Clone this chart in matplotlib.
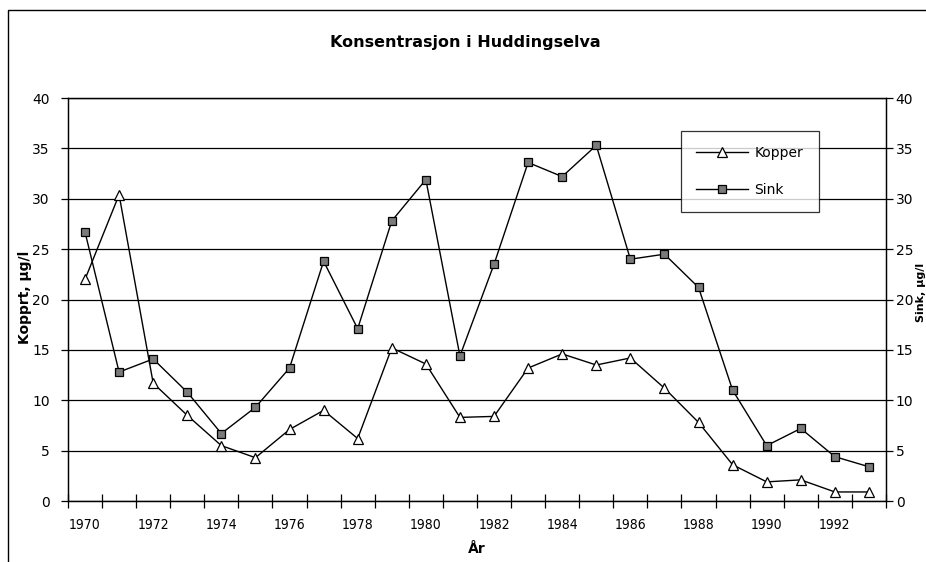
import matplotlib
matplotlib.use("Agg")
import matplotlib.pyplot as plt
from matplotlib.patches import Rectangle

# Data
years = list(range(1970, 1994))
kopper = [22.0, 30.4, 11.7, 8.5, 5.5, 4.3, 7.1, 9.0, 6.2, 15.2, 13.6, 8.3,
          8.4, 13.2, 14.6, 13.5, 14.2, 11.2, 7.8, 3.6, 1.9, 2.1, 0.9, 0.9]
sink = [26.7, 12.8, 14.1, 10.8, 6.7, 9.3, 13.2, 23.8, 17.1, 27.8, 31.9, 14.4,
        23.5, 33.6, 32.2, 35.3, 24.0, 24.5, 21.2, 11.0, 5.5, 7.2, 4.4, 3.4]
year_labels = years[::2]
y_ticks = list(range(0, 41, 5))

plt.rcParams["font.family"] = ["DejaVu Sans"]
FS = 10

fig = plt.figure(figsize=(9.26, 5.62), dpi=100)
ax = fig.add_axes([0.0734, 0.1085, 0.8834, 0.7171])
ax2 = ax.twinx()

# Kopper on the left axis, Sink on the right axis
l1, = ax.plot(years, kopper, color="black", lw=1, marker="^", ms=7,
              mfc="white", mec="black", mew=0.9, label="Kopper", zorder=3)
l2, = ax2.plot(years, sink, color="black", lw=1, marker="s", ms=6,
               mfc="#7a7a7a", mec="black", mew=0.9, label="Sink", zorder=3)

ax.set_xlim(years[0] - 0.5, years[-1] + 0.5)
ax.set_ylim(0, 40)
ax2.set_ylim(0, 40)
ax.set_yticks(y_ticks)
ax2.set_yticks(y_ticks)
ax.yaxis.grid(True, color="black", lw=0.9)
ax.set_axisbelow(True)

# category axis: tick marks between years, labels at every second year
ax.set_xticks([y - 0.5 for y in years] + [years[-1] + 0.5])
ax.set_xticklabels([])
ax.set_xticks(year_labels, minor=True)
ax.set_xticklabels([str(y) for y in year_labels], minor=True,
                   fontsize=FS, fontstretch="condensed")
ax.tick_params(axis="x", which="major", direction="inout", length=10, width=0.9)
ax.tick_params(axis="x", which="minor", length=0, pad=12)
ax.tick_params(axis="y", direction="out", length=5, width=0.9, pad=8,
               labelsize=FS)
ax2.tick_params(axis="y", direction="out", length=5, width=0.9, pad=2,
                labelsize=FS)

for a in (ax, ax2):
    for s in a.spines.values():
        s.set_linewidth(0.9)

fig.text(0.502, 1 - 43 / 562, "Konsentrasjon i Huddingselva", ha="center",
         va="center", fontsize=11.5, fontweight="bold")
fig.text(0.515, 1 - 549 / 562, "År", ha="center", va="center",
         fontsize=FS, fontweight="bold")
fig.text(25 / 926, 1 - 297 / 562, "Kopprt, µg/l", rotation=90, ha="center",
         va="center", fontsize=FS, fontweight="bold")
fig.text(925.5 / 926, 1 - 292 / 562, "Sink, µg/l", rotation=90, ha="right",
         va="center", fontsize=8, fontweight="bold")

leg = ax2.legend(handles=[l1, l2], loc="upper left",
                 bbox_to_anchor=(681 / 926, 1 - 131 / 562),
                 bbox_transform=fig.transFigure, fontsize=FS,
                 frameon=True, fancybox=False, shadow=False,
                 handlelength=3.7, handletextpad=0.5, borderpad=1.1,
                 labelspacing=1.6, borderaxespad=0)
leg.get_frame().set_edgecolor("black")
leg.get_frame().set_linewidth(0.9)

# outer chart frame
fig.add_artist(Rectangle((8 / 926, -0.2), 1.5, 1.2 - 10 / 562,
                         transform=fig.transFigure, fill=False,
                         lw=1, ec="black"))

fig.savefig("out.png", dpi=100)
